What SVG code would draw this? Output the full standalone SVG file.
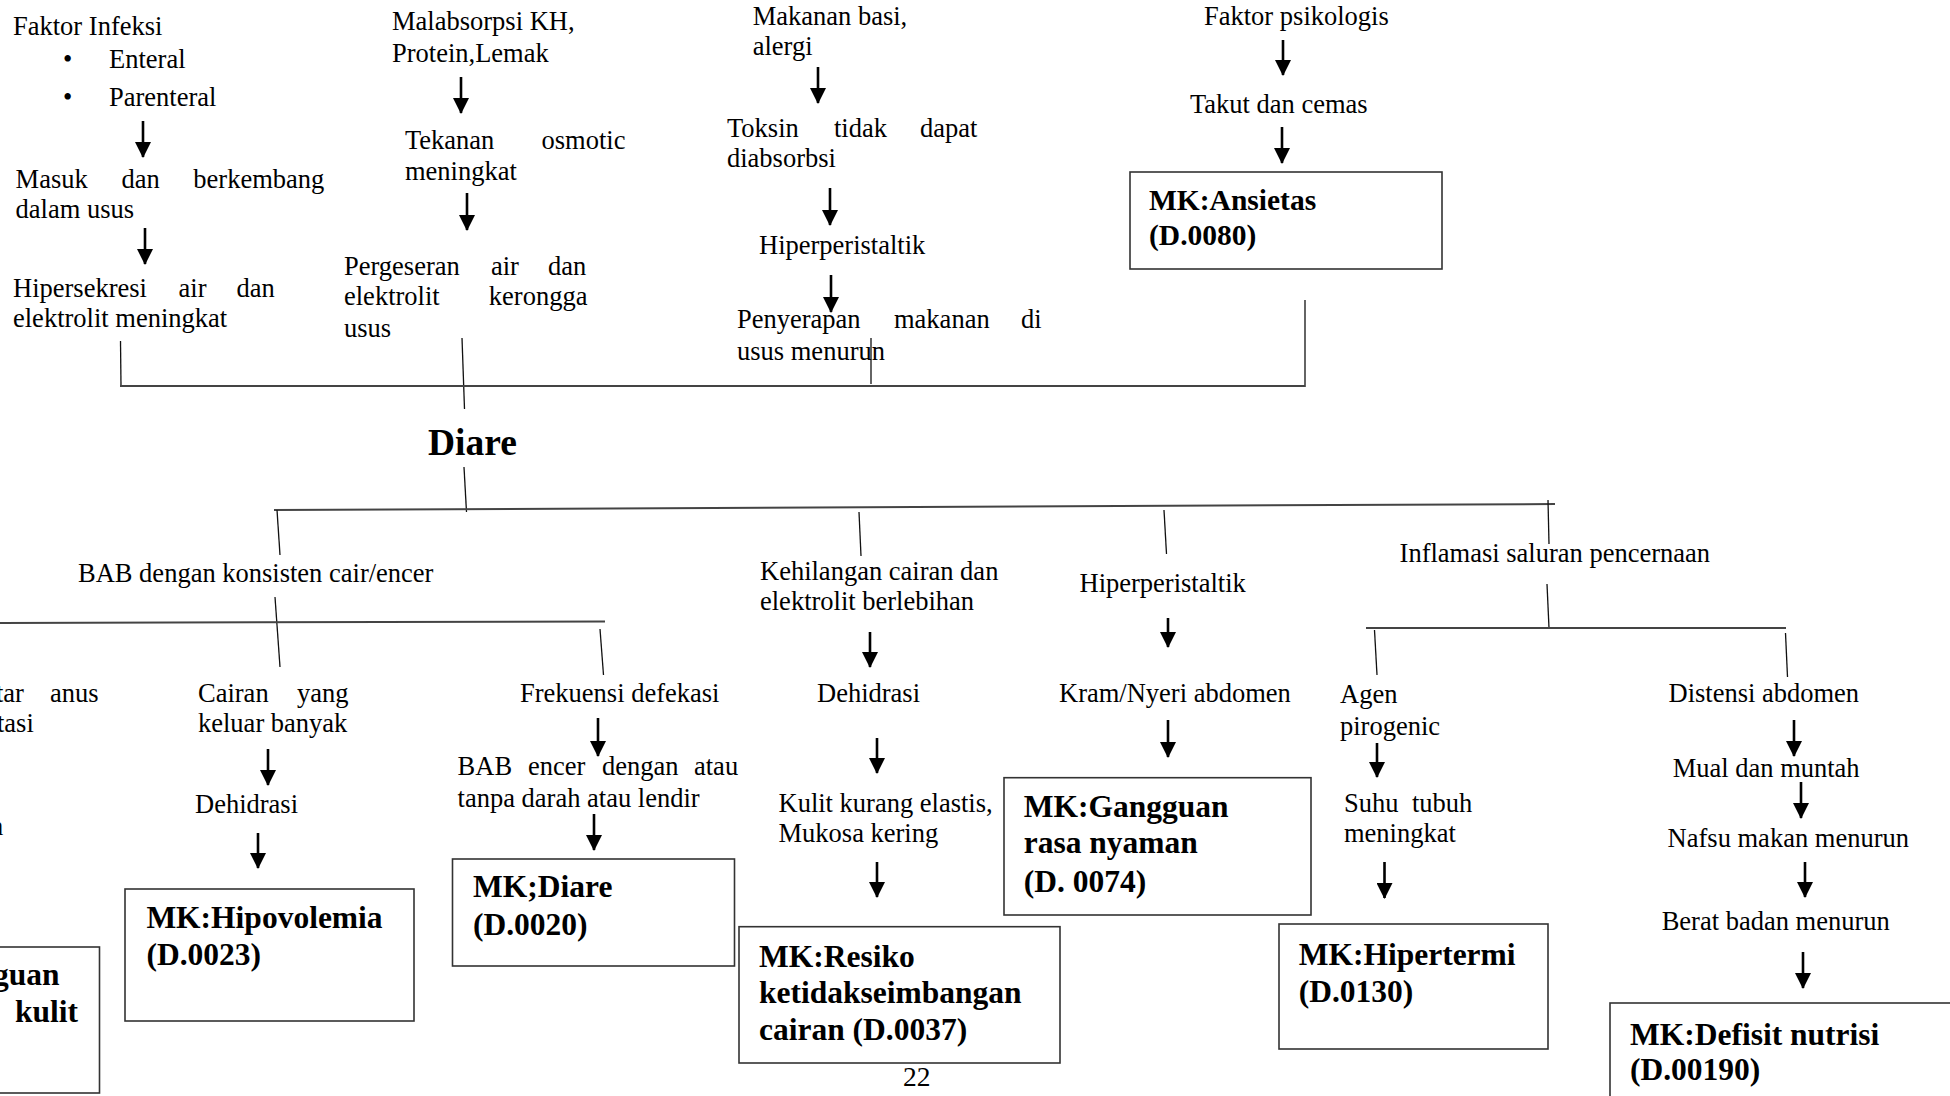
<svg xmlns="http://www.w3.org/2000/svg" width="1950" height="1096" viewBox="0 0 1950 1096">
<defs>
<style>
text{font-family:'Liberation Serif','Times New Roman',serif;fill:#000}
.t{font-size:26.5px}
.b{font-size:31.5px;font-weight:bold}
.ba{font-size:29.5px;font-weight:bold}
.box{fill:#fff;stroke:#333;stroke-width:1.6}
.ln{stroke:#111;stroke-width:1.3;fill:none}
.hl{stroke:#444;stroke-width:2;fill:none}
.ar{stroke:#000;stroke-width:2.6;fill:none;marker-end:url(#ah)}
</style>
<marker id="ah" markerUnits="userSpaceOnUse" viewBox="0 0 16 16" refX="15" refY="8" markerWidth="16" markerHeight="16" orient="auto">
<path d="M0,0 L16,8 L0,16 z" fill="#000"/>
</marker>
</defs>
<rect width="1950" height="1096" fill="#fff"/>

<g id="connectors">
<line class="ln" x1="120.5" y1="341" x2="121" y2="386"/>
<line class="ln" x1="462" y1="338" x2="464.5" y2="409"/>
<line class="ln" x1="871" y1="338" x2="871" y2="384"/>
<line class="ln" x1="1305" y1="300" x2="1305" y2="387"/>
<line class="hl" x1="120" y1="386" x2="1305" y2="386"/>
<line class="ln" x1="464" y1="467" x2="466.5" y2="512"/>
<line class="hl" x1="274" y1="510" x2="1555" y2="504"/>
<line class="ln" x1="277" y1="510" x2="280" y2="555"/>
<line class="ln" x1="859" y1="512" x2="861" y2="556"/>
<line class="ln" x1="1164" y1="510" x2="1166.5" y2="554"/>
<line class="ln" x1="1548" y1="500" x2="1549" y2="544"/>
<line class="ln" x1="275" y1="597" x2="280" y2="667"/>
<line class="hl" x1="-2" y1="623" x2="605" y2="621.5"/>
<line class="ln" x1="600" y1="629" x2="603.5" y2="675"/>
<line class="ln" x1="1547" y1="584" x2="1549" y2="628"/>
<line class="hl" x1="1366" y1="628" x2="1786" y2="628"/>
<line class="ln" x1="1374.5" y1="630" x2="1377" y2="675"/>
<line class="ln" x1="1785.5" y1="633" x2="1787.5" y2="677"/>
<line class="ar" x1="143" y1="121" x2="143" y2="157"/>
<line class="ar" x1="145" y1="228" x2="145" y2="264"/>
<line class="ar" x1="461" y1="77" x2="461" y2="113"/>
<line class="ar" x1="467" y1="193" x2="467" y2="230"/>
<line class="ar" x1="818" y1="67" x2="818" y2="103"/>
<line class="ar" x1="830" y1="188" x2="830" y2="225"/>
<line class="ar" x1="831" y1="275" x2="831" y2="312"/>
<line class="ar" x1="1283" y1="40" x2="1283" y2="75"/>
<line class="ar" x1="1282" y1="127" x2="1282" y2="163"/>
<line class="ar" x1="268" y1="749" x2="268" y2="785"/>
<line class="ar" x1="258" y1="833" x2="258" y2="868"/>
<line class="ar" x1="598" y1="718" x2="598" y2="756"/>
<line class="ar" x1="594" y1="814" x2="594" y2="850"/>
<line class="ar" x1="870" y1="632" x2="870" y2="667"/>
<line class="ar" x1="877" y1="738" x2="877" y2="773"/>
<line class="ar" x1="877" y1="862" x2="877" y2="897"/>
<line class="ar" x1="1168" y1="618" x2="1168" y2="647"/>
<line class="ar" x1="1168" y1="720" x2="1168" y2="757"/>
<line class="ar" x1="1377" y1="743" x2="1377" y2="777"/>
<line class="ar" x1="1384.5" y1="862" x2="1384.5" y2="898"/>
<line class="ar" x1="1794" y1="720" x2="1794" y2="756"/>
<line class="ar" x1="1801" y1="782" x2="1801" y2="818"/>
<line class="ar" x1="1805" y1="862" x2="1805" y2="897"/>
<line class="ar" x1="1803" y1="952" x2="1803" y2="988"/>
</g>

<g id="n-faktor-infeksi">
<text class="t" x="13" y="35">Faktor Infeksi</text>
<text class="t" x="63" y="68">•</text><text class="t" x="109" y="68">Enteral</text>
<text class="t" x="63" y="106">•</text><text class="t" x="109" y="106">Parenteral</text>
</g>
<g id="n-masuk">
<text class="t" y="188"><tspan x="15.6">Masuk</tspan><tspan x="121.4">dan</tspan><tspan x="193.3">berkembang</tspan></text>
<text class="t" x="15.6" y="218">dalam usus</text>
</g>
<g id="n-hipersekresi">
<text class="t" y="297"><tspan x="13">Hipersekresi</tspan><tspan x="178.6">air</tspan><tspan x="236.6">dan</tspan></text>
<text class="t" x="13" y="327">elektrolit meningkat</text>
</g>
<g id="n-malabsorpsi">
<text class="t" x="392" y="30">Malabsorpsi KH,</text>
<text class="t" x="392" y="62">Protein,Lemak</text>
</g>
<g id="n-tekanan">
<text class="t" y="149"><tspan x="405">Tekanan</tspan><tspan x="541.5">osmotic</tspan></text>
<text class="t" x="405" y="180">meningkat</text>
</g>
<g id="n-pergeseran">
<text class="t" y="275"><tspan x="344">Pergeseran</tspan><tspan x="491">air</tspan><tspan x="548">dan</tspan></text>
<text class="t" y="305"><tspan x="344">elektrolit</tspan><tspan x="488.8">kerongga</tspan></text>
<text class="t" x="344" y="337">usus</text>
</g>
<g id="n-makanan">
<text class="t" x="752.7" y="25">Makanan basi,</text>
<text class="t" x="752.7" y="55">alergi</text>
</g>
<g id="n-toksin">
<text class="t" y="137"><tspan x="727">Toksin</tspan><tspan x="834">tidak</tspan><tspan x="920">dapat</tspan></text>
<text class="t" x="727" y="167">diabsorbsi</text>
</g>
<g id="n-hiperperistaltik-top">
<text class="t" x="759" y="254">Hiperperistaltik</text>
</g>
<g id="n-penyerapan">
<text class="t" y="328"><tspan x="737">Penyerapan</tspan><tspan x="894">makanan</tspan><tspan x="1021">di</tspan></text>
<text class="t" x="737" y="360">usus menurun</text>
</g>
<g id="n-psikologis">
<text class="t" x="1204" y="25">Faktor psikologis</text>
</g>
<g id="n-takut">
<text class="t" x="1190" y="113">Takut dan cemas</text>
</g>
<g id="n-ansietas">
<rect class="box" x="1130" y="172" width="312" height="97"/>
<text class="ba" x="1149" y="210">MK:Ansietas</text>
<text class="ba" x="1149" y="245">(D.0080)</text>
</g>

<g id="n-diare">
<text x="428" y="455" style="font-size:37.5px;font-weight:bold">Diare</text>
</g>

<g id="n-bab">
<text class="t" x="78" y="582">BAB dengan konsisten cair/encer</text>
</g>
<g id="n-anus">
<text class="t" y="701.7"><tspan x="-4">tar</tspan><tspan x="50">anus</tspan></text>
<text class="t" x="-3" y="731.7">tasi</text>
<text class="t" x="-10" y="835">n</text>
</g>
<g id="n-kulit-box">
<rect class="box" x="-10" y="947" width="109.5" height="146"/>
<text class="b" x="-7" y="985">guan</text>
<text class="b" x="15" y="1021.7">kulit</text>
</g>
<g id="n-cairan">
<text class="t" y="701.7"><tspan x="198">Cairan</tspan><tspan x="297">yang</tspan></text>
<text class="t" x="198" y="731.7">keluar banyak</text>
</g>
<g id="n-dehidrasi-1">
<text class="t" x="195" y="812.7">Dehidrasi</text>
</g>
<g id="n-hipovolemia">
<rect class="box" x="125" y="889" width="289" height="132"/>
<text class="b" x="146.4" y="928">MK:Hipovolemia</text>
<text class="b" x="146.4" y="965">(D.0023)</text>
</g>
<g id="n-frekuensi">
<text class="t" x="520" y="701.7">Frekuensi defekasi</text>
</g>
<g id="n-bab-encer">
<text class="t" y="775"><tspan x="457.6">BAB</tspan><tspan x="528">encer</tspan><tspan x="602">dengan</tspan><tspan x="694">atau</tspan></text>
<text class="t" x="457.6" y="806.7">tanpa darah atau lendir</text>
</g>
<g id="n-mk-diare">
<rect class="box" x="452.5" y="859" width="282" height="107"/>
<text class="b" x="473" y="896.7">MK;Diare</text>
<text class="b" x="473" y="935">(D.0020)</text>
</g>
<g id="n-kehilangan">
<text class="t" x="760" y="580">Kehilangan cairan dan</text>
<text class="t" x="760" y="610">elektrolit berlebihan</text>
</g>
<g id="n-dehidrasi-2">
<text class="t" x="817" y="701.7">Dehidrasi</text>
</g>
<g id="n-kulit-kurang">
<text class="t" x="778.5" y="812">Kulit kurang elastis,</text>
<text class="t" x="778.5" y="841.7">Mukosa kering</text>
</g>
<g id="n-resiko">
<rect class="box" x="739" y="926.7" width="321" height="136.3"/>
<text class="b" x="759" y="966.7">MK:Resiko</text>
<text class="b" x="759" y="1003">ketidakseimbangan</text>
<text class="b" x="759" y="1040">cairan (D.0037)</text>
</g>
<g id="n-hiperperistaltik-bottom">
<text class="t" x="1079.5" y="591.7">Hiperperistaltik</text>
</g>
<g id="n-kram">
<text class="t" x="1059" y="701.7">Kram/Nyeri abdomen</text>
</g>
<g id="n-gangguan">
<rect class="box" x="1004" y="777.7" width="307" height="137.3"/>
<text class="b" x="1023.7" y="817">MK:Gangguan</text>
<text class="b" x="1023.7" y="853">rasa nyaman</text>
<text class="b" x="1023.7" y="891.7">(D. 0074)</text>
</g>
<g id="n-inflamasi">
<text class="t" x="1399.6" y="561.7">Inflamasi saluran pencernaan</text>
</g>
<g id="n-agen">
<text class="t" x="1340" y="703">Agen</text>
<text class="t" x="1340" y="735">pirogenic</text>
</g>
<g id="n-suhu">
<text class="t" y="811.7"><tspan x="1344">Suhu</tspan><tspan x="1412">tubuh</tspan></text>
<text class="t" x="1344" y="841.7">meningkat</text>
</g>
<g id="n-hipertermi">
<rect class="box" x="1279" y="924" width="269" height="125"/>
<text class="b" x="1298.7" y="965">MK:Hipertermi</text>
<text class="b" x="1298.7" y="1001.7">(D.0130)</text>
</g>
<g id="n-distensi">
<text class="t" x="1668.5" y="701.7">Distensi abdomen</text>
</g>
<g id="n-mual">
<text class="t" x="1672.7" y="776.7">Mual dan muntah</text>
</g>
<g id="n-nafsu">
<text class="t" x="1667.6" y="846.7">Nafsu makan menurun</text>
</g>
<g id="n-berat">
<text class="t" x="1661.7" y="930">Berat badan menurun</text>
</g>
<g id="n-defisit">
<rect class="box" x="1610" y="1003" width="400" height="150"/>
<text class="b" x="1630" y="1045">MK:Defisit nutrisi</text>
<text class="b" x="1630" y="1080">(D.00190)</text>
</g>
<g id="page-number">
<text x="903" y="1086" style="font-size:27.5px">22</text>
</g>
</svg>
